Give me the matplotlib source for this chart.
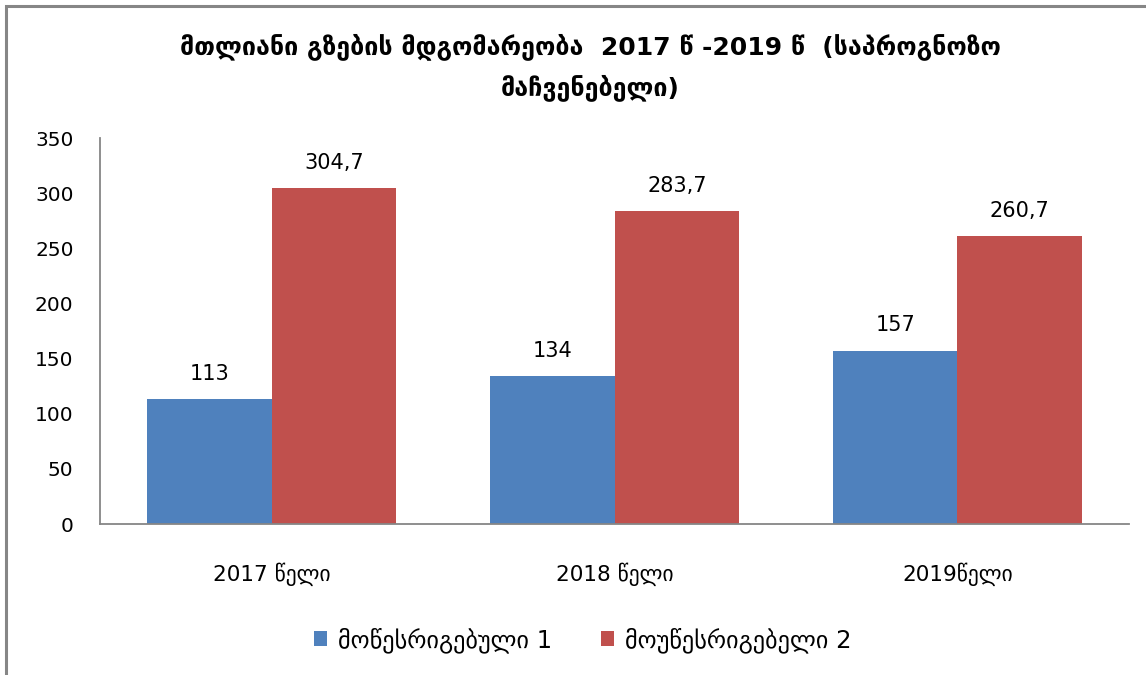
import matplotlib.pyplot as plt
import numpy as np
from matplotlib.patches import Rectangle

plt.rcParams['font.family'] = ['DejaVu Sans']

categories = ["2017 წელი", "2018 წელი", "2019წელი"]
series1 = [113, 134, 157]
series2 = [304.7, 283.7, 260.7]
names = ["მოწესრიგებული 1", "მოუწესრიგებელი 2"]
title = "მთლიანი გზების მდგომარეობა  2017 წ -2019 წ  (საპროგნოზო\nმაჩვენებელი)"

def fmt(v):
    s = f"{v:g}"
    return s.replace(".", ",")

fig = plt.figure(figsize=(11.46, 6.75), dpi=100)
W, H = 1146, 675
ax = fig.add_axes([100 / W, (H - 524) / H, 1029 / W, (524 - 138) / H])

x = np.arange(len(categories))
w = 0.363
b1 = ax.bar(x - w / 2, series1, w, color='#4F81BD', label=names[0])
b2 = ax.bar(x + w / 2, series2, w, color='#C0504D', label=names[1])

for bars, vals in ((b1, series1), (b2, series2)):
    for r, v in zip(bars, vals):
        ax.text(r.get_x() + r.get_width() / 2, v + 14, fmt(v),
                ha='center', va='bottom', fontsize=15)

ax.set_xlim(-0.5, 2.5)
ax.set_ylim(0, 350)
ax.set_yticks(range(0, 351, 50))
ax.set_xticks(x)
ax.set_xticklabels(categories, fontsize=15.5)
ax.tick_params(axis='both', length=0)
ax.tick_params(axis='y', labelsize=14.5, pad=19)
ax.tick_params(axis='x', pad=28)
for s in ('top', 'right'):
    ax.spines[s].set_visible(False)
for s in ('left', 'bottom'):
    ax.spines[s].set_color('#868686')
    ax.spines[s].set_linewidth(1.3)

fig.text(590 / W, 1 - 67 / H, title, ha='center', va='center',
         fontsize=18, fontweight='bold', linespacing=1.7)

fig.legend(handles=[b1, b2], loc='center', bbox_to_anchor=(583 / W, 1 - 640 / H),
           ncol=2, frameon=False, fontsize=17.5, handlelength=0.55, handleheight=0.55,
           columnspacing=2.0, handletextpad=0.45)

fig.patches.append(Rectangle((6 / W, -0.1), 1.2, 1 - 6 / H + 0.1, transform=fig.transFigure,
                             fill=False, edgecolor='#868686', linewidth=2.2))

fig.savefig('out.png', dpi=100)
